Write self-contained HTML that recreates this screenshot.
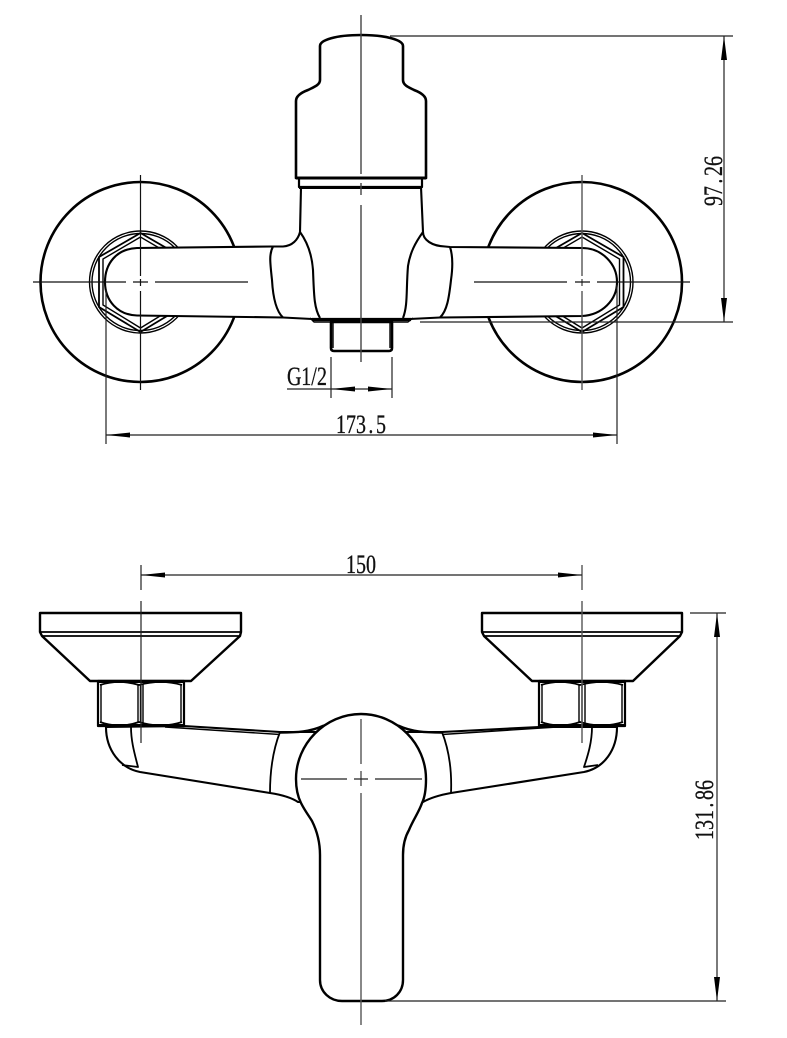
<!DOCTYPE html>
<html><head><meta charset="utf-8"><style>
html,body{margin:0;padding:0;background:#fff}
svg{display:block}
text{font-family:"Liberation Serif",serif;font-size:26px;fill:#111;stroke:#111;stroke-width:.3}
</style></head><body>
<svg width="787" height="1038" viewBox="0 0 787 1038" xmlns="http://www.w3.org/2000/svg">
<rect width="787" height="1038" fill="#fff"/>
<g fill="none" stroke="#000" stroke-width="2.6">
<circle cx="140.5" cy="282" r="100"/>
<circle cx="582" cy="282" r="100"/>
</g>
<g fill="none" stroke="#000" stroke-width="1.4">
<circle cx="140.5" cy="282" r="51"/><circle cx="140.5" cy="282" r="48.5"/>
<circle cx="582" cy="282" r="51"/><circle cx="582" cy="282" r="48.5"/>
<path stroke-width="1.8" d="M140.5 233L99 257V307L140.5 332L182 307V257Z"/>
<path d="M140.5 237L103 259V305L140.5 328L178 305V259Z"/>
<path stroke-width="1.8" d="M582 233L623.500 257V307L582 332L540.500 307V257Z"/>
<path d="M582 237L619.500 259V305L582 328L544.500 305V259Z"/>
</g>
<!-- top view body -->
<g fill="#fff" stroke="#000" stroke-width="2.1" stroke-linejoin="round">
<path d="M137 248C116 249 105 264 105 282C105 301 118 315 137 315.500L283 317.500L312 319L410 319L440 317.500L582 316C602 315 617 300 617 282C617 264 602 248 582 248L450 247L445 246.500C432 246 423 240 423 232L421 187L301 187L300 232C298 240 292 246 283 246.500L272 246.500Z"/>
<path fill="none" d="M300 232C308 243 312 256 313 270C314 295 314 308 320 318"/>
<path fill="none" d="M423 232C415 243 410 253 408 266C406 290 408 305 403 318"/>
<path fill="none" d="M273 246.500C269 254 270 262 272 280C273 298 276 311 283 317.500"/>
<path fill="none" d="M450 247C453 256 453 266 451 280C449 298 447 311 440 317.500"/>
</g>
<g fill="#fff" stroke="#000" stroke-linejoin="round">
<path stroke-width="2.6" d="M320 80V46C320 40 336 35 361 35C386 35 403 40 403 46V80C403 85 408 87 414 90C422 93 426 97 426 101V178H296V101C296 97 300 93 308 90C314 87 320 85 320 80Z"/>
<path stroke-width="2.2" d="M299 178V187H422V178"/>
<path stroke-width="3" fill="none" d="M296 178H426M299 187.500H422"/>
<path stroke-width="2.6" d="M331 322V348Q331 351 334 351H389Q392 351 392 348V322Z"/>
<path stroke-width="1.4" d="M333 322V348M390 322V348"/>
<path stroke-width="3.2" fill="none" d="M312 319.500H411"/>
<path stroke-width="1.4" fill="none" d="M310 318L314 322H408L413 318"/>
</g>
<!-- centre lines top -->
<g fill="none" stroke="#111" stroke-width="1.2">
<path d="M140.500 175V276M140.500 279V286M140.500 291V390"/>
<path d="M582 175V276M582 279V286M582 291V390" stroke="#555" stroke-width="1.4"/>
<path d="M33 282H126M133 282H148M155 282H248"/>
<path d="M474 282H567M575 282H590M597 282H690"/>
<path stroke="#444" stroke-width="1.4" d="M361 15V174M361 183V195M361 205V362"/>
</g>
<!-- dims top -->
<g fill="none" stroke="#222" stroke-width="1.2">
<path d="M390 36H733M420 322H733M724 36V322"/>
<path d="M106 290V444M617 285V444M106 435H617"/>
<path d="M331 357V398M392 357V398M287 389H392"/>
</g>
<g fill="#000" stroke="none">
<path d="M724 36L721 60H727Z"/><path d="M724 322L721 298H727Z"/>
<path d="M106 435L130 432.500V437.500Z"/><path d="M617 435L593 432.500V437.500Z"/>
<path d="M331 389L355 386.500V391.500Z"/><path d="M392 389L368 386.500V391.500Z"/>
</g>
<text transform="translate(336,433) scale(.77,1)" x="0 13 26 42 52">173.5</text>
<text transform="translate(287,385) scale(.77,1)" x="0 18.500 31.500 39">G1/2</text>
<text transform="translate(722,206) rotate(-90) scale(.77,1)" x="0 13 29 39 52">97.26</text>
<!-- lower view -->
<g fill="#fff" stroke="#000" stroke-linejoin="round">
<path stroke-width="2.1" d="M106 727C106 750 120 768 140 772L270 793C283 795 292 798 298 802L423 802C430 798 440 795 451 793L584 772C604 768 617 750 617 727L539 727L442 732H280L184 726Z"/>
<path stroke-width="1.8" fill="none" d="M131 727C131 742 135 755 138 767L122 765"/>
<path stroke-width="1.8" fill="none" d="M592 727C592 742 588 755 584 767L598 765"/>
<path stroke-width="1.8" fill="none" d="M280 732C273 750 270 770 270 793"/>
<path stroke-width="1.8" fill="none" d="M442 732C449 750 452 770 451 793"/>
<path stroke-width="1.4" fill="none" d="M165 727L280 734.500M442 734.500L557 727"/>
<path stroke-width="2.4" fill="none" d="M280 732.500C297 732.500 310 732 324 725.500M442 732.500C425 732.500 412 732 398 725.500"/>
<path stroke-width="2.4" fill="#fff" d="M361 714C325 714 296 744 296 779C296 790 298 797 301 803C305 811 309 816 312 821C317 831 320 843 320 855V980C320 992 330 1001 342 1001H382C394 1001 403 992 403 980V855C403 845 405 837 409 830C413 820 419 812 422 803C425 797 426 790 426 779C426 744 397 714 361 714Z"/>
</g>
<g fill="#fff" stroke="#000" stroke-linejoin="round">
<path stroke-width="2.4" d="M40 613H241V632L240 636L191 681H90L42 636L40 632Z"/>
<path stroke-width="2.4" d="M482 613H682V632L680 636L633 681H532L484 636L482 632Z"/>
<path stroke-width="1.8" fill="none" d="M40 632H241M42 636H240M482 632H682M484 636H680"/>
<path stroke-width="2.2" d="M98 681H184V726H98Z"/>
<path stroke-width="2.2" d="M539 681H625V726H539Z"/>
<path stroke-width="1.4" fill="none" d="M101 684V723M181 684V723M138 684V723M143 684V723M140.500 684V723"/>
<path stroke-width="1.4" fill="none" d="M542 684V723M622 684V723M579 684V723M585 684V723M582 684V723"/>
<path stroke-width="1.800" fill="none" d="M100 685Q119 679 139 685Q161 679 182 685M100 722Q119 729 139 722Q161 729 182 722"/>
<path stroke-width="1.800" fill="none" d="M541 685Q560 679 580 685Q602 679 623 685M541 722Q560 729 580 722Q602 729 623 722"/>
<path stroke-width="3" fill="none" d="M98 681.500H184M98 725.500H184M539 681.500H625M539 725.500H625"/>
</g>
<g fill="none" stroke="#222" stroke-width="1.200">
<path d="M141 565V590M141 601V743"/>
<path stroke="#555" stroke-width="1.400" d="M582 565V590M582 601V743"/>
<path stroke="#555" stroke-width="1.400" d="M361 719V764M361 771V786M361 793V1025"/>
<path d="M301 779H347M354 779H368M375 779H422"/>
<path d="M141 575H582"/>
<path d="M690 613H726M385 1001H726M717 613V1001"/>
</g>
<g fill="#000" stroke="none">
<path d="M141 575L165 572.500V577.500Z"/><path d="M582 575L558 572.500V577.500Z"/>
<path d="M717 613L714 637H720Z"/><path d="M717 1001L714 977H720Z"/>
</g>
<text transform="translate(346,573) scale(.77,1)" x="0 13 26">150</text>
<text transform="translate(713,840) rotate(-90) scale(.77,1)" x="0 13 26 42 52 65">131.86</text>
</svg>
</body></html>
